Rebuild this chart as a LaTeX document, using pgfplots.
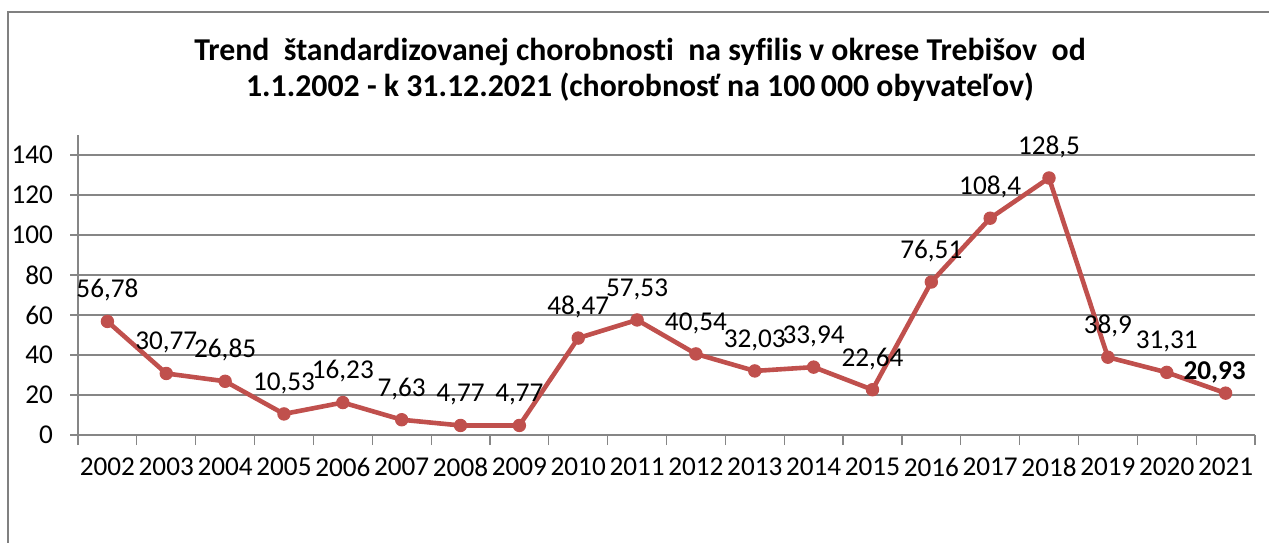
\documentclass[border=0pt]{standalone}
\usepackage{pgfplots}
\pgfplotsset{compat=1.18}
\usepackage{fontspec}
\setmainfont{Carlito}[Ligatures=NoCommon]
\definecolor{linered}{RGB}{192,80,77}
\definecolor{gridgray}{RGB}{134,134,134}
\definecolor{framegray}{RGB}{128,128,128}

\begin{document}
\begin{tikzpicture}
\path[use as bounding box] (0,0) rectangle (634.5pt,271pt);
\draw[framegray, line width=0.9pt] (4pt,-2pt) -- (4pt,265pt) -- (640pt,265pt);
\node[font=\fontsize{15.9}{18}\selectfont\bfseries, align=center, text=black] at (320pt,236pt)
  {Trend\ \ štandardizovanej chorobnosti\ \ na syfilis v okrese Trebišov\ \ od\\
   1.1.2002 - k 31.12.2021 (chorobnosť na 100\,000 obyvateľov)};
\begin{axis}[
  at={(39pt,53.5pt)}, anchor=south west,
  scale only axis,
  width=588.5pt, height=150pt,
  xmin=-0.5, xmax=19.5,
  ymin=0, ymax=150,
  ytick={0,20,...,140},
  xtick={0,...,19},
  xticklabels={2002,2003,2004,2005,2006,2007,2008,2009,2010,2011,2012,2013,2014,2015,2016,2017,2018,2019,2020,2021},
  minor xtick={-0.5,0.5,...,19.5},
  major x tick style={draw=none},
  minor x tick style={draw=gridgray, line width=0.6pt},
  minor tick length=5pt,
  y tick style={draw=gridgray, line width=0.6pt},
  major tick length=4pt,
  tick align=outside,
  ymajorgrids,
  grid style={gridgray, line width=0.6pt},
  axis x line*=bottom,
  axis y line*=left,
  axis line style={gridgray, line width=0.6pt, -},
  ticklabel style={font=\fontsize{13.6}{15}\selectfont, text=black},
  /pgf/number format/assume math mode=true,
  xticklabel style={yshift=-4pt},
  yticklabel style={xshift=-5pt},
  clip=false,
]
\addplot[linered, line width=2.3pt, mark=*, mark size=3.1pt, mark options={fill=linered, draw=linered, line width=0.5pt}] coordinates {
  (0,56.78) (1,30.77) (2,26.85) (3,10.53) (4,16.23) (5,7.63) (6,4.77) (7,4.77) (8,48.47) (9,57.53)
  (10,40.54) (11,32.03) (12,33.94) (13,22.64) (14,76.51) (15,108.4) (16,128.5) (17,38.9) (18,31.31) (19,20.93)
};
\addplot[draw=none, mark=none, point meta=explicit symbolic, nodes near coords,
  every node near coord/.append style={anchor=center, yshift=15.5pt, font=\fontsize{13.6}{15}\selectfont, text=black}]
  coordinates {
  (0,56.78) [56,78] (1,30.77) [30,77] (2,26.85) [26,85] (3,10.53) [10,53] (4,16.23) [16,23]
  (5,7.63) [7,63] (6,4.77) [4,77] (7,4.77) [4,77] (8,48.47) [48,47] (9,57.53) [57,53]
  (10,40.54) [40,54] (11,32.03) [32,03] (12,33.94) [33,94] (13,22.64) [22,64] (14,76.51) [76,51]
  (15,108.4) [108,4] (16,128.5) [128,5] (17,38.9) [38,9] (18,31.31) [31,31]
};
\addplot[draw=none, mark=none, point meta=explicit symbolic, nodes near coords,
  every node near coord/.append style={anchor=center, yshift=10.5pt, xshift=-5.5pt, font=\fontsize{13.6}{15}\selectfont\bfseries, text=black}]
  coordinates {(19,20.93) [20,93]};
\end{axis}
\end{tikzpicture}
\end{document}
